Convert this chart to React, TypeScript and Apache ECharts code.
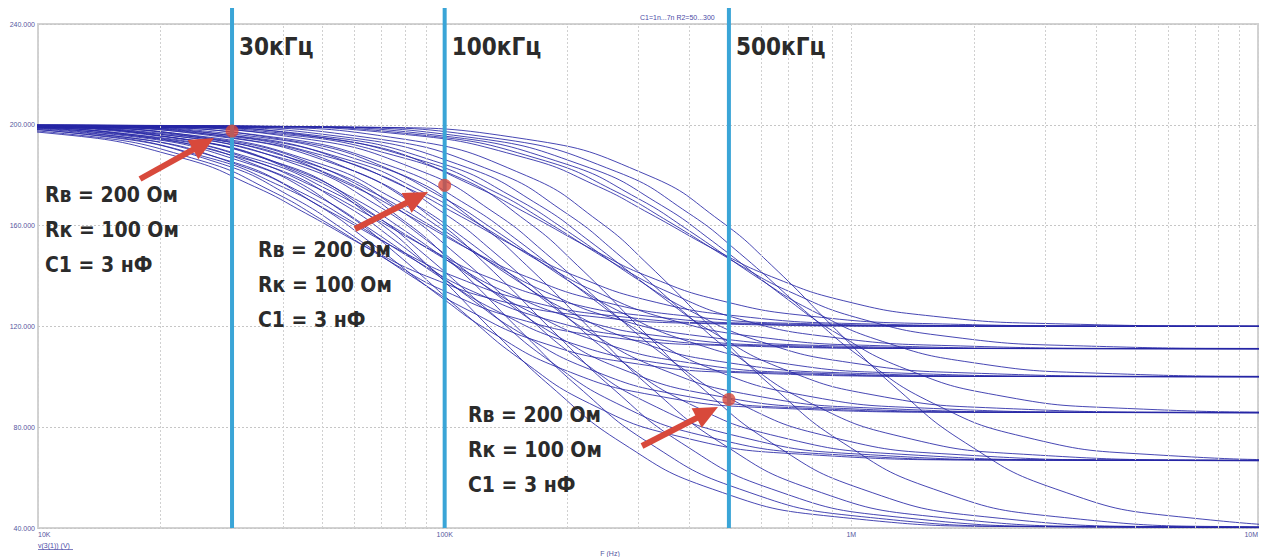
import React, { useEffect, useRef } from "react";
import * as echarts from "echarts";

// ---- axis data ----
const X_MIN = 10; // kHz
const X_MAX = 10000; // kHz
const X_TICK_LABELS: Record<number, string> = { 10: "10K", 100: "100K", 1000: "1M", 10000: "10M" };
const X_MINOR_GRID = [20, 30, 40, 50, 60, 70, 80, 90, 200, 300, 400, 500, 600, 700, 800, 900, 2000, 3000, 4000, 5000, 6000, 7000, 8000, 9000];
const Y_MIN = 40;
const Y_MAX = 240;
const Y_STEP = 40;

// ---- curve family: R2 = 50..300, C1 = 1n..7n ----
const R2_VALUES = [50, 100, 150, 200, 250, 300];
const C1_VALUES = ["1n", "2n", "3n", "4n", "5n", "6n", "7n"];

// voltage samples (V) along each curve, shared by all C1 of the same R2
const VOLT_R50 = [200, 199.05, 194.27, 179.78, 161.79, 144.22, 115.82, 96.33, 73.76, 55.47, 44.5, 40.53, 40.0];
const VOLT_R100 = [200, 199.12, 194.7, 181.35, 164.92, 149.07, 124.03, 107.5, 89.44, 76.24, 69.26, 66.96, 66.67];
const VOLT_R150 = [200, 199.19, 195.14, 182.95, 168.06, 153.86, 131.89, 117.8, 103.02, 92.75, 87.58, 85.93, 85.71];
const VOLT_R200 = [200, 199.26, 195.54, 184.39, 170.88, 158.11, 138.67, 126.49, 114.02, 105.61, 101.47, 100.17, 100.0];
const VOLT_R250 = [200, 199.31, 195.89, 185.66, 173.33, 161.78, 144.41, 133.7, 122.93, 115.8, 112.34, 111.25, 111.11];
const VOLT_R300 = [200, 199.37, 196.2, 186.76, 175.45, 164.92, 149.25, 139.71, 130.23, 124.03, 121.05, 120.12, 120.0];

// frequencies (kHz) of those samples, one row per C1 (1n..7n)
const FREQ_R50 = [
  [6.37, 63.7, 159, 318, 477, 637, 955, 1273, 1910, 3183, 6366, 19098, 190980],
  [3.18, 31.8, 79.6, 159, 239, 318, 477, 637, 955, 1592, 3183, 9549, 95490],
  [2.12, 21.2, 53.1, 106, 159, 212, 318, 424, 637, 1061, 2122, 6366, 63660],
  [1.59, 15.9, 39.8, 79.6, 119, 159, 239, 318, 478, 796, 1592, 4776, 47760],
  [1.27, 12.7, 31.8, 63.7, 95.5, 127, 191, 255, 382, 637, 1273, 3819, 38190],
  [1.06, 10.6, 26.5, 53.1, 79.6, 106, 159, 212, 318, 531, 1061, 3183, 31830],
  [0.909, 9.09, 22.7, 45.5, 68.2, 90.9, 136, 182, 273, 455, 909, 2727, 27270],
];
const FREQ_R100 = [
  [5.31, 53.1, 133, 265, 398, 531, 796, 1061, 1592, 2653, 5305, 15915, 159150],
  [2.65, 26.5, 66.3, 133, 199, 265, 398, 531, 796, 1327, 2653, 7959, 79590],
  [1.77, 17.7, 44.2, 88.4, 133, 177, 265, 354, 530, 884, 1768, 5304, 53040],
  [1.33, 13.3, 33.2, 66.3, 99.5, 133, 199, 265, 398, 663, 1326, 3978, 39780],
  [1.06, 10.6, 26.5, 53.1, 79.6, 106, 159, 212, 318, 531, 1061, 3183, 31830],
  [0.884, 8.84, 22.1, 44.2, 66.3, 88.4, 133, 177, 265, 442, 884, 2652, 26520],
  [0.758, 7.58, 19.0, 37.9, 56.9, 75.8, 114, 152, 227, 379, 758, 2274, 22740],
];
const FREQ_R150 = [
  [4.55, 45.5, 114, 227, 341, 455, 682, 909, 1364, 2274, 4547, 13641, 136410],
  [2.27, 22.7, 56.9, 114, 171, 227, 341, 455, 682, 1137, 2274, 6822, 68220],
  [1.52, 15.2, 37.9, 75.8, 114, 152, 227, 303, 455, 758, 1516, 4548, 45480],
  [1.14, 11.4, 28.4, 56.9, 85.3, 114, 171, 227, 341, 569, 1137, 3411, 34110],
  [0.909, 9.09, 22.7, 45.5, 68.2, 90.9, 136, 182, 273, 455, 909, 2727, 27270],
  [0.758, 7.58, 19.0, 37.9, 56.9, 75.8, 114, 152, 227, 379, 758, 2274, 22740],
  [0.65, 6.5, 16.3, 32.5, 48.8, 65, 97.5, 130, 195, 325, 650, 1950, 19500],
];
const FREQ_R200 = [
  [3.98, 39.8, 99.5, 199, 298, 398, 597, 796, 1194, 1990, 3979, 11937, 119370],
  [1.99, 19.9, 49.7, 99.5, 149, 199, 298, 398, 597, 995, 1989, 5967, 59670],
  [1.33, 13.3, 33.2, 66.3, 99.5, 133, 199, 265, 398, 663, 1326, 3978, 39780],
  [0.995, 9.95, 24.9, 49.7, 74.6, 99.5, 149, 199, 298, 497, 995, 2985, 29850],
  [0.796, 7.96, 19.9, 39.8, 59.7, 79.6, 119, 159, 239, 398, 796, 2388, 23880],
  [0.663, 6.63, 16.6, 33.2, 49.7, 66.3, 99.5, 133, 199, 332, 663, 1989, 19890],
  [0.568, 5.68, 14.2, 28.4, 42.6, 56.8, 85.2, 114, 170, 284, 568, 1704, 17040],
];
const FREQ_R250 = [
  [3.54, 35.4, 88.4, 177, 265, 354, 531, 707, 1061, 1769, 3537, 10611, 106110],
  [1.77, 17.7, 44.2, 88.4, 133, 177, 265, 354, 530, 884, 1768, 5304, 53040],
  [1.18, 11.8, 29.5, 59.0, 88.4, 118, 177, 236, 354, 590, 1179, 3537, 35370],
  [0.884, 8.84, 22.1, 44.2, 66.3, 88.4, 133, 177, 265, 442, 884, 2652, 26520],
  [0.707, 7.07, 17.7, 35.4, 53.0, 70.7, 106, 141, 212, 354, 707, 2121, 21210],
  [0.589, 5.89, 14.7, 29.5, 44.2, 58.9, 88.4, 118, 177, 295, 589, 1767, 17670],
  [0.505, 5.05, 12.6, 25.3, 37.9, 50.5, 75.8, 101, 152, 253, 505, 1515, 15150],
];
const FREQ_R300 = [
  [3.18, 31.8, 79.6, 159, 239, 318, 477, 637, 955, 1592, 3183, 9549, 95490],
  [1.59, 15.9, 39.8, 79.6, 119, 159, 239, 318, 478, 796, 1592, 4776, 47760],
  [1.06, 10.6, 26.5, 53.1, 79.6, 106, 159, 212, 318, 531, 1061, 3183, 31830],
  [0.796, 7.96, 19.9, 39.8, 59.7, 79.6, 119, 159, 239, 398, 796, 2388, 23880],
  [0.637, 6.37, 15.9, 31.8, 47.7, 63.7, 95.5, 127, 191, 318, 637, 1910, 19100],
  [0.531, 5.31, 13.3, 26.5, 39.8, 53.1, 79.6, 106, 159, 265, 531, 1592, 15920],
  [0.455, 4.55, 11.4, 22.7, 34.1, 45.5, 68.2, 91, 136, 227, 455, 1364, 13640],
];

const FAMILY_FREQS = [FREQ_R50, FREQ_R100, FREQ_R150, FREQ_R200, FREQ_R250, FREQ_R300];
const FAMILY_VOLTS = [VOLT_R50, VOLT_R100, VOLT_R150, VOLT_R200, VOLT_R250, VOLT_R300];

// ---- markers (Rв=200, Rк=100, C1=3нФ) ----
const MARK_FREQS = [30, 100, 500];
const MARK_VOLTS = [197.5, 176, 91];
const MARK_LABELS = ["30кГц", "100кГц", "500кГц"];
const NOTE_LINES = ["Rв = 200 Ом", "Rк = 100 Ом", "C1 = 3 нФ"];

const TITLE = "C1=1n...7n R2=50...300";
const X_NAME = "F (Hz)";
const Y_NAME = "v(3(1)) (V)";

const CURVE_COLOR = "#2727a6";
const VLINE_COLOR = "#3aa5d7";
const RED = "#d8493b";
const TEXT_DARK = "#2b2b2b";
const AXIS_TEXT = "#5656a0";

function arrow(tail: [number, number], tip: [number, number]) {
  const dx = tip[0] - tail[0];
  const dy = tip[1] - tail[1];
  const len = Math.sqrt(dx * dx + dy * dy);
  const ux = dx / len;
  const uy = dy / len;
  const headLen = 24;
  const halfW = 11;
  const bx = tip[0] - ux * headLen;
  const by = tip[1] - uy * headLen;
  const nx = -uy;
  const ny = ux;
  return [
    {
      type: "line",
      z: 30,
      shape: { x1: tail[0], y1: tail[1], x2: bx + ux * 2, y2: by + uy * 2 },
      style: { stroke: RED, lineWidth: 6 },
    },
    {
      type: "polygon",
      z: 30,
      shape: {
        points: [
          [tip[0], tip[1]],
          [bx + nx * halfW, by + ny * halfW],
          [bx - nx * halfW, by - ny * halfW],
        ],
      },
      style: { fill: RED },
    },
  ];
}

export default function App() {
  const ref = useRef<HTMLDivElement>(null);

  useEffect(() => {
    if (!ref.current) return;
    const chart = echarts.init(ref.current, undefined, { renderer: "svg" });

    const curveSeries: any[] = [];
    R2_VALUES.forEach((r2, ri) => {
      C1_VALUES.forEach((c1, ci) => {
        const freqs = FAMILY_FREQS[ri][ci];
        const volts = FAMILY_VOLTS[ri];
        curveSeries.push({
          name: `R2=${r2} C1=${c1}`,
          type: "line",
          data: freqs.map((f, i) => [f, volts[i]]),
          showSymbol: false,
          smooth: 0.5,
          silent: true,
          z: 2,
          lineStyle: { color: CURVE_COLOR, width: 1, opacity: 0.85 },
        });
      });
    });

    const option: any = {
      animation: false,
      backgroundColor: "#ffffff",
      grid: {
        left: 38,
        top: 24,
        width: 1220,
        height: 504,
        show: true,
        borderColor: "#d2d2d2",
        borderWidth: 2,
        backgroundColor: "#ffffff",
      },
      xAxis: {
        type: "log",
        logBase: 10,
        min: X_MIN,
        max: X_MAX,
        axisLine: { show: false },
        axisTick: { show: false },
        axisLabel: {
          fontSize: 7,
          color: AXIS_TEXT,
          margin: 3,
          fontFamily: "Liberation Sans",
          alignMinLabel: "left",
          alignMaxLabel: "right",
          formatter: (v: number) => X_TICK_LABELS[Math.round(v)] ?? "",
        },
        splitLine: { show: true, lineStyle: { color: "#cfcfcf", type: [2, 2], width: 1 } },
      },
      yAxis: {
        type: "value",
        min: Y_MIN,
        max: Y_MAX,
        interval: Y_STEP,
        axisLine: { show: false },
        axisTick: { show: false },
        axisLabel: {
          fontSize: 7,
          color: AXIS_TEXT,
          margin: 3,
          fontFamily: "Liberation Sans",
          formatter: (v: number) => v.toFixed(3),
        },
        splitLine: { show: true, lineStyle: { color: "#c6c6c6", type: [2, 2], width: 1 } },
      },
      series: [
        {
          type: "line",
          data: [],
          silent: true,
          markLine: {
            silent: true,
            symbol: "none",
            label: { show: false },
            lineStyle: { color: "#d0d0d0", type: [2, 2], width: 1 },
            data: X_MINOR_GRID.map((f) => ({ xAxis: f })),
          },
        },
        ...curveSeries,
        {
          type: "scatter",
          data: MARK_FREQS.map((f, i) => [f, MARK_VOLTS[i]]),
          symbolSize: 13,
          itemStyle: { color: RED },
          z: 40,
          silent: true,
        },
      ],
    };
    chart.setOption(option);

    const xPix = MARK_FREQS.map((f) => chart.convertToPixel({ xAxisIndex: 0 }, f) as number);
    const yBottom = chart.convertToPixel({ yAxisIndex: 0 }, Y_MIN) as number;

    const graphics: any[] = [];
    xPix.forEach((x, i) => {
      graphics.push({
        type: "line",
        z: 20,
        shape: { x1: x, y1: 8, x2: x, y2: yBottom },
        style: { stroke: VLINE_COLOR, lineWidth: 4 },
      });
      graphics.push({
        type: "text",
        z: 50,
        x: x + 7,
        y: 47,
        style: {
          text: MARK_LABELS[i],
          fill: TEXT_DARK,
          font: "bold 24px 'DejaVu Sans Condensed', 'DejaVu Sans', sans-serif",
          verticalAlign: "middle",
        },
      });
    });

    const notePos: [number, number][] = [
      [45, 195],
      [258, 250],
      [468, 415],
    ];
    notePos.forEach(([nx, ny]) => {
      NOTE_LINES.forEach((line, li) => {
        graphics.push({
          type: "text",
          z: 50,
          x: nx,
          y: ny + li * 35,
          style: {
            text: line,
            fill: TEXT_DARK,
            font: "bold 21px 'DejaVu Sans Condensed', 'DejaVu Sans', sans-serif",
            verticalAlign: "middle",
          },
        });
      });
    });

    graphics.push(...arrow([140, 179], [214, 138]));
    graphics.push(...arrow([355, 229], [428, 192]));
    graphics.push(...arrow([642, 446], [718, 407]));

    graphics.push({
      type: "text",
      z: 50,
      x: 640,
      y: 17,
      style: { text: TITLE, fill: "#4a4aa6", font: "7px 'Liberation Sans', sans-serif", verticalAlign: "middle" },
    });
    graphics.push({
      type: "text",
      z: 50,
      x: 610,
      y: 553,
      style: { text: X_NAME, fill: AXIS_TEXT, font: "7px 'Liberation Sans', sans-serif", align: "center", verticalAlign: "middle" },
    });
    graphics.push({
      type: "text",
      z: 50,
      x: 38,
      y: 545,
      style: { text: Y_NAME, fill: "#4a4aa6", font: "7px 'Liberation Sans', sans-serif", verticalAlign: "middle" },
    });
    graphics.push({
      type: "line",
      z: 50,
      shape: { x1: 38, y1: 549.5, x2: 73, y2: 549.5 },
      style: { stroke: "#4a4aa6", lineWidth: 0.7 },
    });

    chart.setOption({ graphic: graphics });

    return () => chart.dispose();
  }, []);

  return (
    <div
      ref={ref}
      style={{ position: "absolute", left: 0, top: 0, width: 1267, height: 557, background: "#fff" }}
    />
  );
}
